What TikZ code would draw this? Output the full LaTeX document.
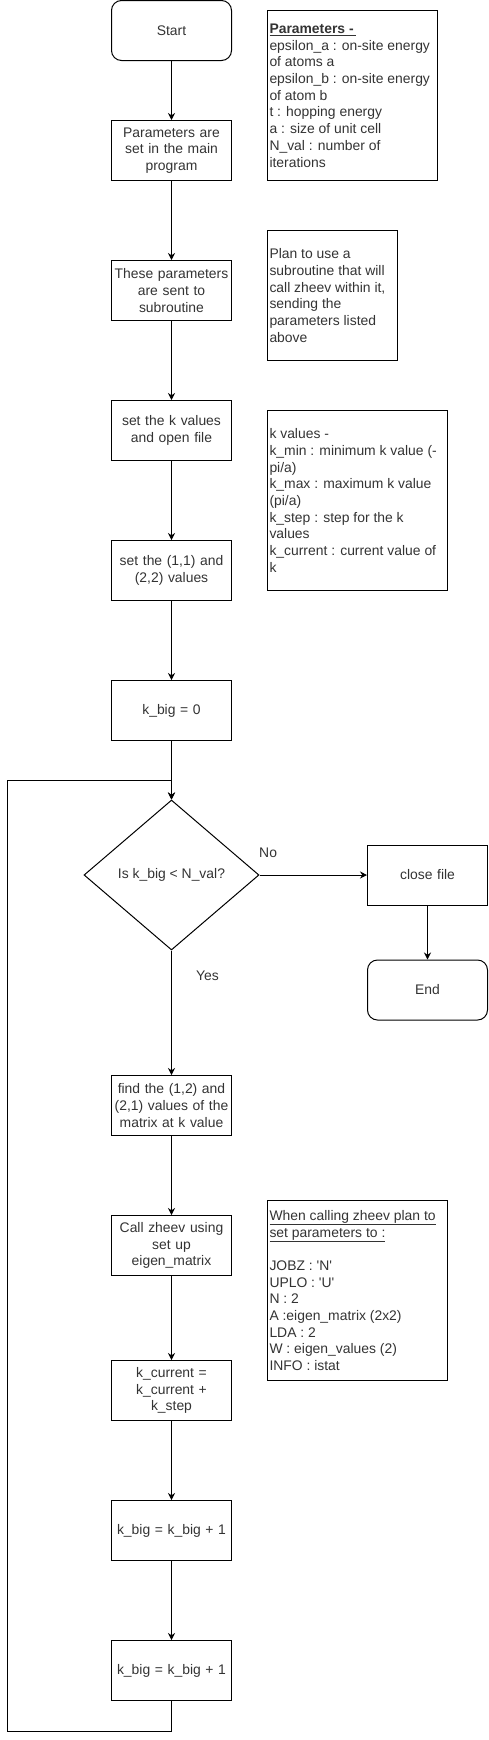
\documentclass[tikz,border=0pt]{standalone}
\usepackage{fontspec}
\setmainfont{Liberation Sans}
\usepackage{tikz}
\usetikzlibrary{arrows.meta,shapes.geometric,positioning}

\newcommand{\flowfont}{\fontsize{13.9pt}{16.7pt}\selectfont}

\begin{document}
\begin{tikzpicture}[x=1pt,y=1pt,>={Stealth[length=7pt,width=7pt]},line width=1pt,
    every node/.style={font=\flowfont,text=black!80},
    process/.style={draw,rectangle,minimum width=120pt,minimum height=60pt,text width=116pt,align=center,inner sep=2pt},
    terminal/.style={process,rounded corners=10pt},
    decision/.style={draw,diamond,minimum width=175pt,minimum height=150pt,aspect=1.167,inner sep=0pt,align=center},
    note/.style 2 args={draw,rectangle,align=flush left,inner xsep=2pt,inner ysep=0pt,text width=#1,minimum height=#2}]
  \useasboundingbox (0,0) rectangle (489,-1740);

  \node[terminal] (start) at (171.5,-30.5)                  {Start};
  \node[process]  (setp)  [below of=start, node distance=120pt] {Parameters are\\ set in the main\\ program};
  \node[process]  (send)  [below of=setp, node distance=140pt]  {These parameters\\ are sent to\\ subroutine};
  \node[process]  (kset)  [below of=send, node distance=140pt]  {set the k values\\ and open file};
  \node[process]  (diag)  [below of=kset, node distance=140pt]  {set the (1,1) and\\ (2,2) values};
  \node[process]  (kzero) [below of=diag, node distance=140pt]  {k\_big = 0};
  \node[decision] (test)  [below of=kzero, node distance=164.5pt] {Is k\_big < N\_val?};
  \node[process]  (close) [right of=test, node distance=256pt]  {close file};
  \node[terminal] (end)   [below of=close, node distance=115pt] {End};
  \node[process]  (offd)  [below of=test, node distance=230.5pt] {find the (1,2) and\\ (2,1) values of the\\ matrix at k value};
  \node[process]  (call)  [below of=offd, node distance=140pt]  {Call zheev using\\ set up\\ eigen\_matrix};
  \node[process]  (kstep) [below of=call, node distance=145pt]  {k\_current =\\ k\_current +\\ k\_step};
  \node[process]  (kinc)  [below of=kstep, node distance=140pt] {k\_big = k\_big + 1};
  \node[process]  (kinc2) [below of=kinc, node distance=140pt]  {k\_big = k\_big + 1};

  % side notes
  \node[note={166pt}{170pt}] (pars) at (352.5,-95.5) {\underline{\textbf{Parameters -\,}}\\ epsilon\_a : on-site energy\\ of atoms a\\ epsilon\_b : on-site energy\\ of atom b\\ t : hopping energy\\ a : size of unit cell\\ N\_val : number of\\ iterations};
  \node[note={126pt}{130pt}] (plan) at (332.5,-295.5) {Plan to use a\\ subroutine that will\\ call zheev within it,\\ sending the\\ parameters listed\\ above};
  \node[note={176pt}{180pt}] (kvals) at (357.5,-500.5) {k values -\\ k\_min : minimum k value (-\\ pi/a)\\ k\_max : maximum k value\\ (pi/a)\\ k\_step : step for the k\\ values\\ k\_current : current value of\\ k};
  \node[note={176pt}{180pt}] (zpars) at (357.5,-1290.5) {\underline{When calling zheev plan to}\\ \underline{set parameters to :}\\ ~\\ JOBZ : \textquotesingle N\textquotesingle\\ UPLO : \textquotesingle U\textquotesingle\\ N : 2\\ A :eigen\_matrix (2x2)\\ LDA : 2\\ W : eigen\_values (2)\\ INFO : istat};

  \coordinate (back) at (7.5,-780);

  \draw[->] (start) edge (setp)
            (setp)  edge (send)
            (send)  edge (kset)
            (kset)  edge (diag)
            (diag)  edge (kzero)
            (kzero) edge (test)
            (test)  edge node[pos=0.08, yshift=22pt] {No} (close)
                    edge node[pos=0.2, xshift=36pt] {Yes} (offd)
            (close) edge (end)
            (offd)  edge (call)
            (call)  edge (kstep)
            (kstep) edge (kinc)
            (kinc)  edge (kinc2);
  \draw[->] (kinc2.south) -- ++(0,-30) -| (back) -- (back -| test.north) -- (test.north);
\end{tikzpicture}
\end{document}
